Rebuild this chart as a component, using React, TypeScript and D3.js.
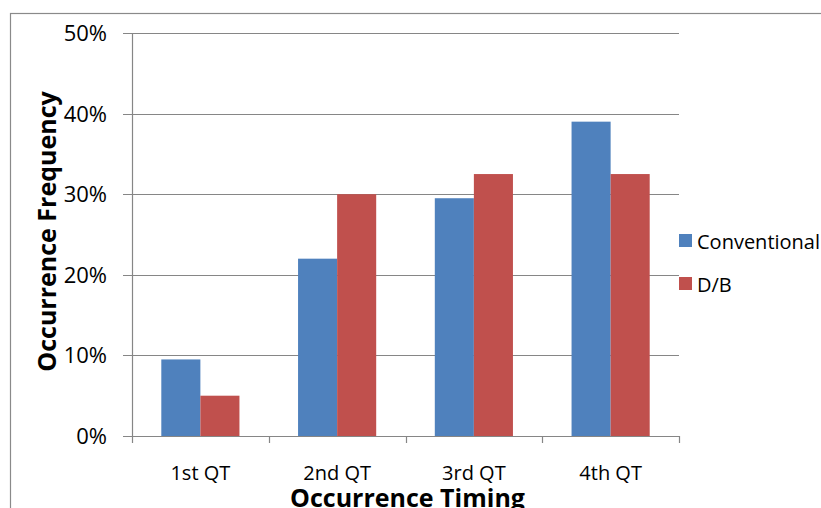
import React from "react";
import * as d3 from "d3";

const categories = ["1st QT", "2nd QT", "3rd QT", "4th QT"];
const seriesNames = ["Conventional", "D/B"];
const conventional = [9.5, 22, 29.5, 39];
const db = [5, 30, 32.5, 32.5];
const yTicks = [0, 10, 20, 30, 40, 50];
const colors = ["#4F81BD", "#C0504D"];

export default function App() {
  const W = 821, H = 508;
  const left = 132, right = 679, top = 33, bottom = 436;
  const font = "'Open Sans', sans-serif";
  const x = d3.scaleBand<string>().domain(categories).range([left, right]).paddingInner(0).paddingOuter(0);
  const y = d3.scaleLinear().domain([0, 50]).range([bottom, top]);
  const inner = d3.scaleBand<string>().domain(seriesNames).range([0, x.bandwidth()]).paddingOuter(0.75).paddingInner(0);
  const series = [conventional, db];
  const gridColor = "#868686";
  return (
    <svg width={W} height={H} style={{ position: "absolute", left: 0, top: 0, background: "#fff" }} fontFamily={font}>
      <rect x={10.5} y={13.5} width={900} height={600} fill="none" stroke="#8a8a8a" strokeWidth={1.2} />
      {yTicks.map((t) => (
        <g key={t}>
          <line x1={123} x2={right} y1={Math.round(y(t)) + 0.5} y2={Math.round(y(t)) + 0.5} stroke={gridColor} strokeWidth={1.2} />
          <text x={107} y={y(t) + 8} textAnchor="end" fontSize={22} fill="#000">{t}%</text>
        </g>
      ))}
      <line x1={left + 0.5} x2={left + 0.5} y1={top} y2={bottom + 7} stroke={gridColor} strokeWidth={1.2} />
      {categories.map((c, i) => (
        <line key={"t" + i} x1={Math.round(x(c)! + x.bandwidth()) + 0.5} x2={Math.round(x(c)! + x.bandwidth()) + 0.5} y1={bottom} y2={bottom + 7} stroke={gridColor} strokeWidth={1.2} />
      ))}
      {categories.map((c, i) => (
        <g key={c}>
          {series.map((s, j) => (
            <rect key={j} x={x(c)! + inner(seriesNames[j])!} y={y(s[i])} width={inner.bandwidth()} height={bottom - y(s[i])} fill={colors[j]} />
          ))}
          <text x={x(c)! + x.bandwidth() / 2} y={480} textAnchor="middle" fontSize={20} fill="#000">{c}</text>
        </g>
      ))}
      <text x={(left + right) / 2 + 2} y={507} textAnchor="middle" fontSize={25} fontWeight="bold" fill="#000">Occurrence Timing</text>
      <text transform={`translate(56,${(top + bottom) / 2 - 3}) rotate(-90)`} textAnchor="middle" fontSize={25} fontWeight="bold" fill="#000">Occurrence Frequency</text>
      {seriesNames.map((n, j) => (
        <g key={n}>
          <rect x={679} y={234 + j * 43} width={13} height={13} fill={colors[j]} />
          <text x={697} y={249 + j * 43} fontSize={20} fill="#000">{n}</text>
        </g>
      ))}
    </svg>
  );
}
